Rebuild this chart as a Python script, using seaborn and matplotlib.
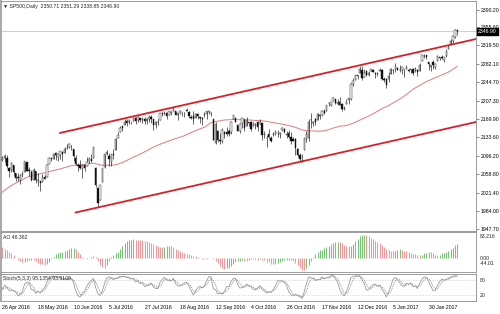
import numpy as np
import pandas as pd
import matplotlib
matplotlib.use("Agg")
import matplotlib.pyplot as plt
import seaborn as sns

sns.set_style("white")
plt.rcParams['font.family'] = ['Liberation Sans', 'DejaVu Sans']

# ---------------- data ----------------
# closes before the visible window (only used to warm up MA / AO)
warmup_close = [
    1939.4, 1903.0, 1912.5, 1915.5, 1880.1, 1853.4, 1852.2, 1851.9, 1829.1, 1864.8,
    1895.6, 1926.8, 1917.8, 1917.8, 1945.5, 1921.3, 1929.8, 1951.7, 1948.1, 1932.2,
    1978.4, 1986.5, 1993.4, 2000.0, 2001.8, 1979.3, 1989.3, 1989.6, 2022.2, 2019.6,
    2015.9, 2027.2, 2040.6, 2049.6, 2051.6, 2049.8, 2036.7, 2035.9, 2037.1, 2055.0,
    2064.0, 2059.7,
    2072.8, 2066.1, 2045.2, 2066.7, 2041.9, 2047.6, 2042.0, 2061.7, 2082.4, 2082.8,
    2080.7, 2094.3, 2100.8, 2102.4, 2091.5, 2091.6]

opens = [
    2089, 2088, 2092, 2091, 2071,
    2067, 2077, 2060, 2052, 2047, 2057, 2062, 2083, 2067, 2062, 2047, 2065, 2045, 2044, 2042, 2053, 2053, 2079, 2091, 2090, 2101,
    2093, 2097, 2104, 2101, 2111, 2113, 2115, 2109, 2091, 2077, 2078, 2069, 2077, 2076, 2085, 2090, 2092, 2070, 2031, 2006, 2043, 2073,
    2099, 2096, 2084, 2100, 2107, 2132, 2144, 2156, 2158, 2165, 2163, 2163, 2166, 2172, 2167, 2173, 2168, 2170, 2166, 2169,
    2174, 2170, 2157, 2164, 2168, 2183, 2182, 2182, 2178, 2183, 2187, 2186, 2178, 2182, 2185, 2182, 2187, 2185, 2174, 2176, 2171, 2180, 2174,
    2171, 2178, 2181, 2185, 2182, 2169, 2121, 2146, 2128, 2125, 2144, 2144, 2145, 2144, 2170, 2173, 2158, 2146, 2161, 2168, 2156,
    2164, 2163, 2155, 2158, 2164, 2160, 2161, 2138, 2131, 2139, 2132, 2138, 2140, 2142, 2139, 2148, 2150, 2137, 2142, 2133, 2130,
    2129, 2110, 2098, 2084, 2108, 2130, 2132, 2167, 2162, 2169, 2168, 2177, 2178, 2187, 2187, 2202, 2199, 2207, 2210, 2201, 2205,
    2201, 2191, 2200, 2208, 2211, 2241, 2249, 2258, 2263, 2269, 2254, 2266, 2259, 2267, 2270, 2263, 2261, 2266, 2270, 2250, 2251,
    2251, 2261, 2269, 2271, 2274, 2269, 2269, 2271, 2272, 2269, 2269, 2272, 2269, 2268, 2267, 2288, 2298, 2299, 2286, 2275,
    2286, 2276, 2288, 2295, 2295, 2290, 2297, 2312, 2321, 2327, 2336, 2350.71]

highs = [
    2089, 2096, 2099, 2097, 2073,
    2084, 2077, 2060, 2060, 2058, 2065, 2084, 2083, 2073, 2067, 2071, 2065, 2061, 2044, 2058, 2056, 2080, 2094, 2092, 2099, 2104,
    2100, 2105, 2105, 2113, 2119, 2121, 2117, 2109, 2098, 2082, 2087, 2080, 2077, 2094, 2094, 2100, 2113, 2072, 2031, 2036, 2071, 2099,
    2108, 2101, 2100, 2109, 2131, 2143, 2156, 2156, 2169, 2169, 2169, 2164, 2175, 2174, 2176, 2173, 2174, 2174, 2172, 2178,
    2178, 2170, 2165, 2169, 2183, 2185, 2187, 2184, 2186, 2186, 2194, 2186, 2183, 2188, 2185, 2185, 2193, 2187, 2179, 2187, 2183, 2183, 2174,
    2174, 2185, 2186, 2187, 2184, 2169, 2163, 2147, 2141, 2151, 2145, 2153, 2150, 2165, 2179, 2174, 2158, 2161, 2172, 2173, 2175,
    2164, 2166, 2163, 2162, 2165, 2169, 2162, 2145, 2138, 2149, 2135, 2144, 2148, 2147, 2143, 2154, 2152, 2146, 2147, 2143, 2133,
    2131, 2112, 2102, 2100, 2132, 2146, 2170, 2182, 2166, 2172, 2182, 2180, 2189, 2190, 2199, 2204, 2205, 2214, 2211, 2210, 2214,
    2203, 2197, 2210, 2212, 2242, 2252, 2259, 2259, 2278, 2277, 2272, 2269, 2267, 2272, 2272, 2264, 2264, 2274, 2272, 2254, 2253,
    2264, 2273, 2271, 2283, 2275, 2279, 2276, 2271, 2279, 2273, 2272, 2274, 2276, 2272, 2284, 2299, 2301, 2299, 2286, 2280,
    2289, 2283, 2299, 2296, 2300, 2296, 2311, 2319, 2331, 2338, 2351, 2351.29]

lows = [
    2077, 2085, 2084, 2071, 2053,
    2063, 2054, 2045, 2045, 2039, 2053, 2062, 2064, 2054, 2044, 2047, 2040, 2035, 2025, 2042, 2048, 2053, 2079, 2086, 2090, 2088,
    2086, 2089, 2085, 2101, 2110, 2112, 2107, 2085, 2078, 2064, 2069, 2050, 2065, 2076, 2081, 2084, 2092, 2032, 1992, 2006, 2043, 2070,
    2097, 2075, 2075, 2090, 2107, 2131, 2143, 2146, 2158, 2156, 2160, 2159, 2166, 2159, 2164, 2163, 2161, 2159, 2160, 2163,
    2162, 2148, 2151, 2158, 2168, 2176, 2179, 2170, 2178, 2179, 2187, 2178, 2168, 2180, 2176, 2175, 2186, 2172, 2169, 2160, 2171, 2170, 2161,
    2157, 2175, 2170, 2180, 2177, 2127, 2119, 2124, 2120, 2122, 2131, 2135, 2136, 2140, 2170, 2163, 2145, 2142, 2152, 2145, 2156,
    2155, 2145, 2155, 2150, 2145, 2160, 2128, 2132, 2114, 2132, 2124, 2135, 2138, 2133, 2131, 2146, 2141, 2131, 2132, 2120, 2125,
    2098, 2094, 2085, 2084, 2108, 2124, 2125, 2151, 2155, 2157, 2168, 2170, 2176, 2180, 2187, 2196, 2196, 2207, 2200, 2199, 2198,
    2187, 2189, 2200, 2200, 2209, 2237, 2248, 2250, 2263, 2249, 2254, 2256, 2256, 2266, 2264, 2253, 2257, 2266, 2249, 2244, 2233,
    2245, 2261, 2260, 2265, 2268, 2265, 2260, 2255, 2271, 2265, 2263, 2259, 2265, 2257, 2267, 2288, 2294, 2292, 2268, 2267,
    2272, 2271, 2287, 2289, 2292, 2285, 2296, 2311, 2321, 2322, 2334, 2338.85]

closes = [
    2087.8, 2091.7, 2095.2, 2075.8, 2065.3,
    2081.4, 2063.4, 2051.1, 2050.6, 2057.1, 2058.7, 2084.4, 2064.5, 2064.1, 2046.6, 2066.7, 2047.2, 2047.6, 2040.0, 2052.3, 2048.0, 2076.1, 2090.5, 2090.1, 2099.1, 2097.0,
    2099.3, 2105.3, 2099.1, 2109.4, 2112.1, 2119.1, 2115.5, 2096.1, 2079.1, 2075.3, 2071.5, 2078.0, 2071.2, 2083.3, 2088.9, 2085.5, 2113.3, 2037.4, 2000.5, 2036.1, 2070.8, 2098.9,
    2103.0, 2088.6, 2099.7, 2097.9, 2129.9, 2137.2, 2152.1, 2152.4, 2163.8, 2161.7, 2166.9, 2163.8, 2173.0, 2165.2, 2175.0, 2168.5, 2169.2, 2166.6, 2170.1, 2173.6,
    2170.8, 2157.0, 2163.8, 2164.3, 2182.9, 2180.9, 2181.7, 2175.5, 2185.8, 2184.1, 2190.2, 2178.2, 2182.2, 2187.0, 2183.9, 2182.6, 2186.9, 2175.4, 2172.5, 2169.0, 2180.4, 2176.1, 2171.0,
    2170.9, 2180.0, 2186.5, 2186.2, 2181.3, 2127.8, 2159.0, 2127.0, 2125.8, 2147.3, 2139.2, 2139.1, 2139.8, 2163.1, 2177.2, 2164.7, 2146.1, 2159.9, 2171.4, 2151.1, 2168.3,
    2161.2, 2150.5, 2159.7, 2160.8, 2153.7, 2163.7, 2136.7, 2139.2, 2132.6, 2133.0, 2126.5, 2139.6, 2144.3, 2141.3, 2141.2, 2151.3, 2143.2, 2139.4, 2133.0, 2126.4, 2126.2,
    2111.7, 2097.9, 2088.7, 2085.2, 2131.5, 2139.6, 2163.3, 2167.5, 2164.5, 2164.2, 2180.4, 2176.9, 2187.1, 2181.9, 2198.2, 2202.9, 2204.7, 2213.4, 2201.7, 2204.7, 2198.8,
    2191.1, 2192.0, 2204.7, 2212.2, 2241.4, 2246.2, 2259.5, 2257.0, 2271.7, 2253.3, 2262.0, 2258.1, 2262.5, 2270.8, 2265.2, 2261.0, 2263.8, 2268.9, 2249.9, 2249.3, 2238.8,
    2257.8, 2270.8, 2269.0, 2277.0, 2268.9, 2268.9, 2275.3, 2270.4, 2274.6, 2267.9, 2271.9, 2263.7, 2271.3, 2265.2, 2280.1, 2298.4, 2296.7, 2294.7, 2280.9, 2278.9,
    2279.6, 2280.9, 2297.4, 2292.6, 2293.1, 2294.7, 2307.9, 2316.1, 2328.3, 2337.6, 2349.3, 2346.9]

date_labels = ["26 Apr 2016", "18 May 2016", "10 Jun 2016", "5 Jul 2016", "27 Jul 2016",
               "18 Aug 2016", "12 Sep 2016", "4 Oct 2016", "26 Oct 2016", "17 Nov 2016",
               "12 Dec 2016", "5 Jan 2017", "30 Jan 2017"]
date_label_idx = [1, 17, 33, 49, 65, 81, 97, 113, 129, 145, 161, 177, 193]

price_ticks = [2390.20, 2355.60, 2319.50, 2282.10, 2244.70, 2207.30, 2169.90,
               2133.60, 2096.20, 2058.80, 2021.40, 1984.00, 1947.70]

channel_upper_x = [26.8, 214.4]
channel_upper_y = [2141.7, 2331.6]
channel_lower_x = [33.9, 214.4]
channel_lower_y = [1981.0, 2163.9]

last_price = 2346.90
title_text = "\u25BC SP500,Daily  2350.71 2351.29 2338.85 2346.90"
ao_title = "AO 48.362"
ao_labels = ["83.216", "0.00", "-44.01"]
stoch_title = "Stoch(5,3,3) 95.1354 93.5108"

# ---------------- indicators ----------------
n = len(closes)
x = np.arange(n)
o = np.array(opens, float); h = np.array(highs, float)
l = np.array(lows, float); c = np.array(closes, float)

all_close = pd.Series(warmup_close + closes)
ma50 = all_close.rolling(50).mean().to_numpy()[-n:]

med = pd.Series(warmup_close + list((h + l) / 2))
ao_all = (med.rolling(5).mean() - med.rolling(34).mean()).to_numpy()
ao = ao_all[-n:]
ao_prev = ao_all[-n - 1:-1]

hi_all = pd.Series(warmup_close + highs)
lo_all = pd.Series(warmup_close + lows)
ll5 = lo_all.rolling(5).min()
hh5 = hi_all.rolling(5).max()
k_all = 100 * (all_close - ll5).rolling(3).sum() / (hh5 - ll5).rolling(3).sum()
d_all = k_all.rolling(3).mean()
stk = k_all.to_numpy()[-n:]
std = d_all.to_numpy()[-n:]

# ---------------- layout ----------------
W, H = 500, 314
fig = plt.figure(figsize=(5, 3.14), dpi=100)
fig.patch.set_facecolor("white")

def ax_at(x0, y0, x1, y1):
    return fig.add_axes([x0 / W, 1 - y1 / H, (x1 - x0) / W, (y1 - y0) / H])

ax = ax_at(0.5, 1, 476, 231)
ax_ao = ax_at(0.5, 232, 476, 272)
ax_st = ax_at(0.5, 274, 476, 301)

FS = 3.7
xlim = (0.1, 214.4)
for a in (ax, ax_ao, ax_st):
    a.set_xlim(*xlim)
    a.set_facecolor("white")
    for s in a.spines.values():
        s.set_color("#8c8c8c")
        s.set_linewidth(0.6)
    a.spines["left"].set_linewidth(1.4)
    a.spines["left"].set_color("#a8a8a8")
    a.yaxis.tick_right()
    a.set_xticks([])

# ---------------- main panel ----------------
ax.axhline(last_price, color="#c6c6c6", lw=0.6, zorder=1)
ax.vlines(x, l, h, colors="#111111", lw=0.45, zorder=3)
up = c >= o
body_h = np.maximum(np.abs(c - o), 0.8)
body_b = np.minimum(o, c)
ax.bar(x, body_h, bottom=body_b, width=0.62,
       color=np.where(up, "white", "#111111"), edgecolor="#111111", linewidth=0.3, zorder=4)

sns.lineplot(x=x, y=ma50, ax=ax, color="#e07a7a", lw=0.7, zorder=2)
sns.lineplot(x=channel_upper_x, y=channel_upper_y, ax=ax, color="#d7202a", lw=1.3, zorder=5)
sns.lineplot(x=channel_lower_x, y=channel_lower_y, ax=ax, color="#d7202a", lw=1.3, zorder=5)

ax.set_ylim(1943.7, 2408.4)
ax.set_yticks(price_ticks)
ax.set_yticklabels([f"{v:.2f}" for v in price_ticks])
ax.tick_params(axis="y", labelsize=FS, length=2, width=0.4, pad=1.2, colors="#333333",
               labelcolor="black")
ax.set_xlabel(""); ax.set_ylabel("")
ax.text(0.006, 0.988, title_text, transform=ax.transAxes, fontsize=FS, va="top", ha="left")
ax.annotate(f"{last_price:.2f}", xy=(1, last_price), xycoords=("axes fraction", "data"),
            xytext=(1.6, 0), textcoords="offset points", fontsize=FS, color="white",
            va="center", ha="left", annotation_clip=False, zorder=10,
            bbox=dict(boxstyle="square,pad=0.25", fc="black", ec="black"))

# ---------------- AO panel ----------------
ao_col = np.where(ao > ao_prev, "#79c479", "#ef9a9a")
ax_ao.vlines(x, 0, ao, colors=ao_col, lw=0.75)
rng = np.nanmax(ao) - np.nanmin(ao)
ax_ao.set_ylim(np.nanmin(ao) - 0.06 * rng, np.nanmax(ao) + 0.08 * rng)
ax_ao.set_yticks([])
ax_ao.text(0.006, 0.93, ao_title, transform=ax_ao.transAxes, fontsize=FS, va="top", ha="left")
lab_kw = dict(xycoords=("axes fraction", "data"), textcoords="offset points",
              fontsize=FS, va="center", ha="left", annotation_clip=False)
ax_ao.annotate(ao_labels[0], xy=(1, ax_ao.get_ylim()[1]), xytext=(3, -3), **lab_kw)
ax_ao.annotate(ao_labels[1], xy=(1, 0), xytext=(3, 0), **lab_kw)
ax_ao.annotate(ao_labels[2], xy=(1, 0), xytext=(3, -3.8), **lab_kw)
ax_ao.set_xlabel(""); ax_ao.set_ylabel("")

# ---------------- Stochastic panel ----------------
ax_st.axhline(80, color="#c0c0c0", lw=0.5, ls=(0, (1, 1.5)))
ax_st.axhline(20, color="#c0c0c0", lw=0.5, ls=(0, (1, 1.5)))
sns.lineplot(x=x, y=stk, ax=ax_st, color="#9a9a9a", lw=0.6)
sns.lineplot(x=x, y=std, ax=ax_st, color="#8a8a8a", lw=0.6, linestyle=(0, (1.5, 1.2)))
ax_st.set_ylim(-4, 104)
ax_st.set_yticks([80, 20])
ax_st.set_yticklabels(["80", "20"])
ax_st.tick_params(axis="y", labelsize=FS, length=0, pad=2.5)
ax_st.text(0.006, 0.93, stoch_title, transform=ax_st.transAxes, fontsize=FS, va="top", ha="left")
ax_st.set_xticks(date_label_idx)
ax_st.set_xticklabels(date_labels, ha="left")
ax_st.tick_params(axis="x", labelsize=FS, length=1.5, width=0.4, pad=1.5, colors="#555555",
                  labelcolor="black")
ax_st.set_xlabel(""); ax_st.set_ylabel("")

fig.savefig("out.png", dpi=100, facecolor="white")
